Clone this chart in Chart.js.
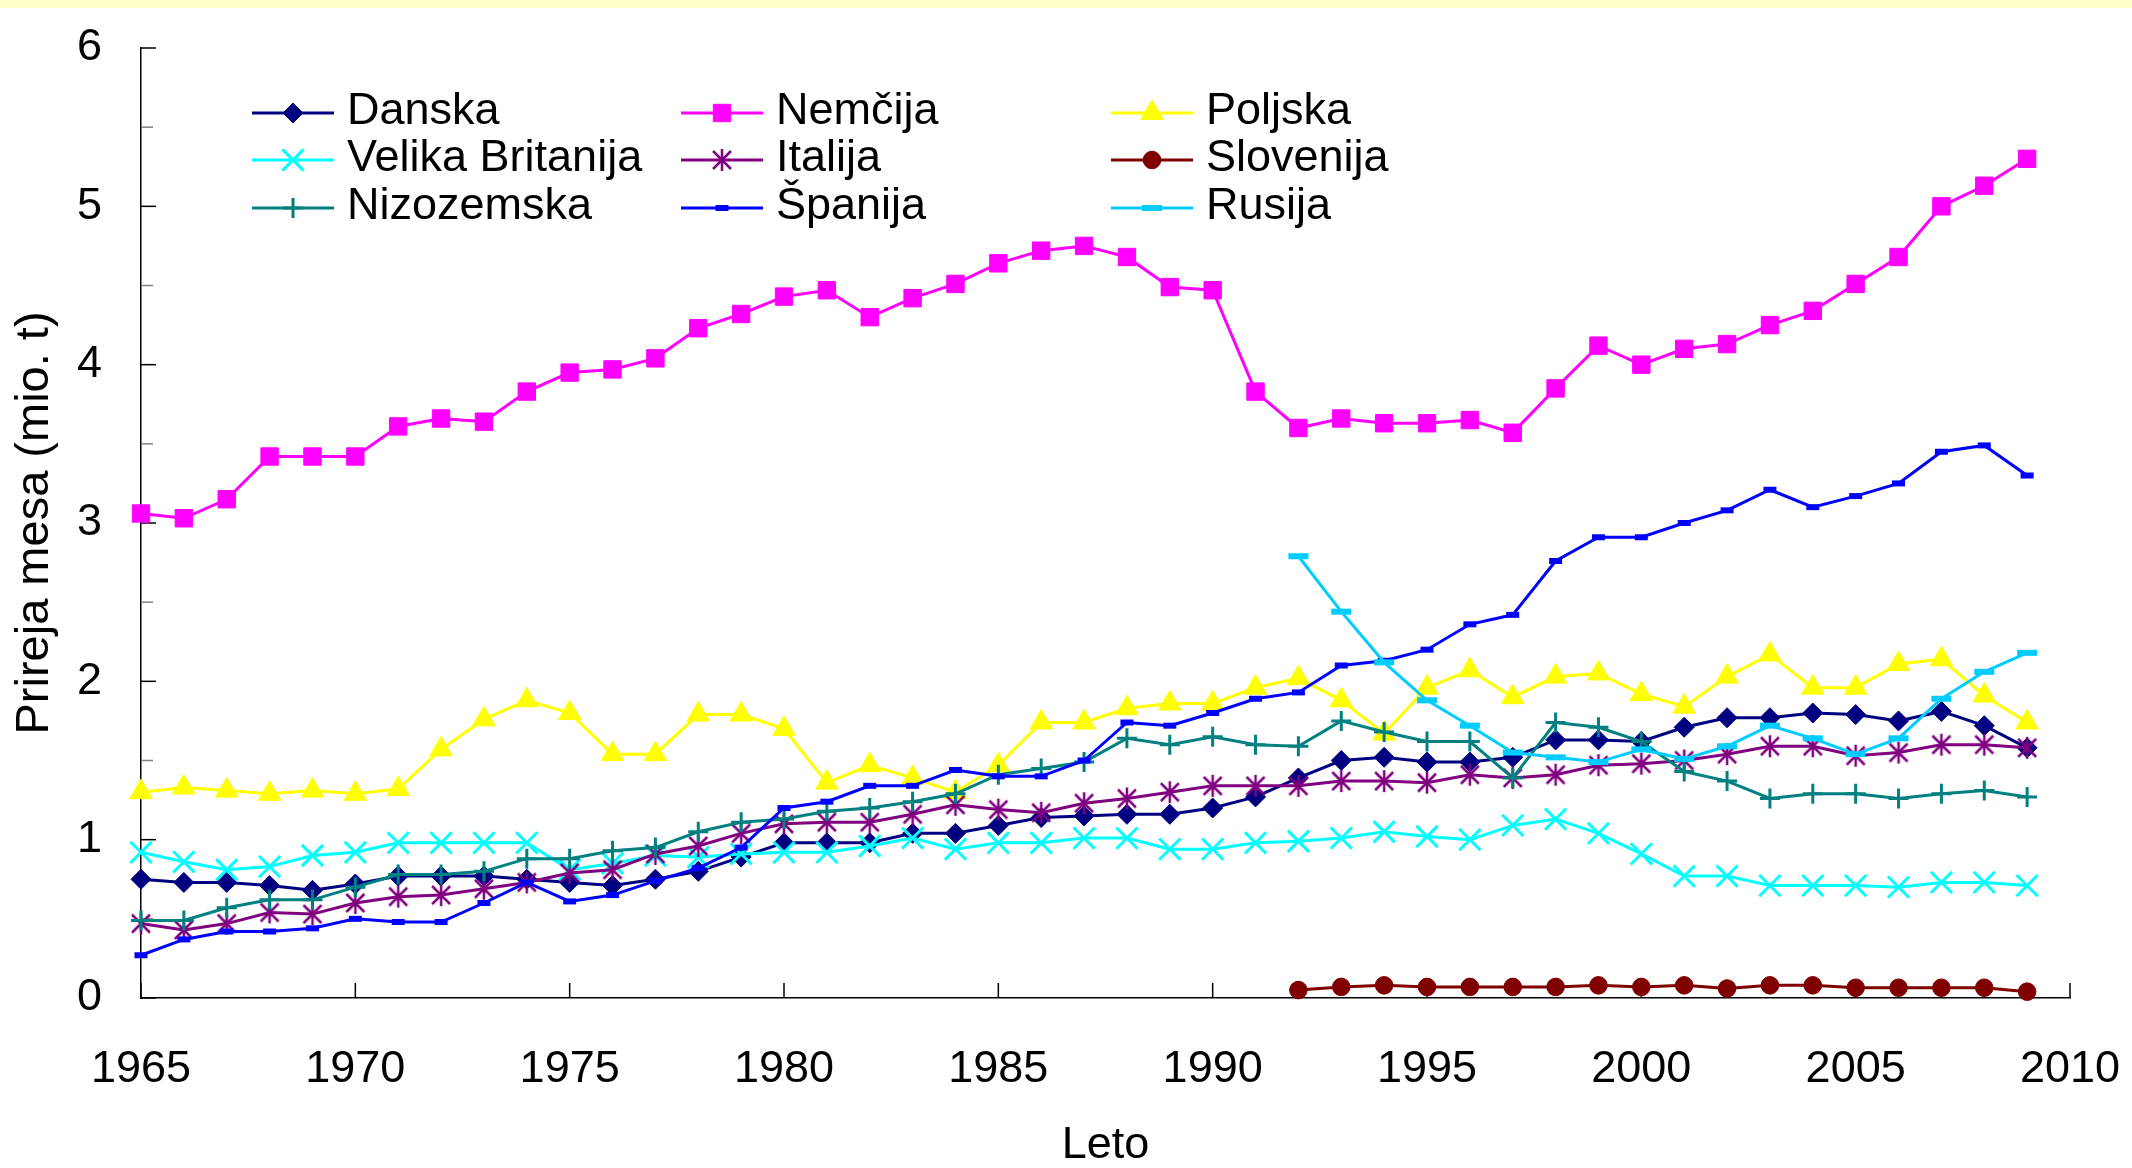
<!DOCTYPE html>
<html>
<head>
<meta charset="utf-8">
<script src="https://cdn.jsdelivr.net/npm/chart.js@4/dist/chart.umd.min.js"></script>
<style>
    html, body { margin: 0; padding: 0; background: #fff; }
    #wrap { width: 2132px; height: 1168px; }
</style>
</head>
<body>
<div id="wrap"><canvas id="myChart" width="2132" height="1168"></canvas></div>
<script>
const years = [1965, 1966, 1967, 1968, 1969, 1970, 1971, 1972, 1973, 1974, 1975, 1976, 1977, 1978, 1979,
    1980, 1981, 1982, 1983, 1984, 1985, 1986, 1987, 1988, 1989, 1990, 1991, 1992, 1993, 1994,
    1995, 1996, 1997, 1998, 1999, 2000, 2001, 2002, 2003, 2004, 2005, 2006, 2007, 2008, 2009];
const xTicks = [1965, 1970, 1975, 1980, 1985, 1990, 1995, 2000, 2005, 2010];

const danska = [0.75, 0.73, 0.73, 0.71, 0.68, 0.72, 0.77, 0.77, 0.77, 0.75, 0.73, 0.71, 0.75, 0.80,
    0.89, 0.98, 0.98, 0.98, 1.04, 1.04, 1.09, 1.14, 1.15, 1.16, 1.16, 1.20, 1.27, 1.39, 1.50, 1.52,
    1.49, 1.49, 1.52, 1.63, 1.63, 1.62, 1.71, 1.77, 1.77, 1.80, 1.79, 1.75, 1.81, 1.72, 1.58];
const nemcija = [3.06, 3.03, 3.15, 3.42, 3.42, 3.42, 3.61, 3.66, 3.64, 3.83, 3.95, 3.97, 4.04, 4.23,
    4.32, 4.43, 4.47, 4.30, 4.42, 4.51, 4.64, 4.72, 4.75, 4.68, 4.49, 4.47, 3.83, 3.60, 3.66, 3.63,
    3.63, 3.65, 3.57, 3.85, 4.12, 4.00, 4.10, 4.13, 4.25, 4.34, 4.51, 4.68, 5.00, 5.13, 5.30];
const poljska = [1.30, 1.33, 1.31, 1.29, 1.31, 1.29, 1.32, 1.57, 1.76, 1.88, 1.80, 1.54, 1.54, 1.79,
    1.79, 1.70, 1.36, 1.47, 1.39, 1.30, 1.47, 1.74, 1.74, 1.83, 1.86, 1.86, 1.96, 2.02, 1.88, 1.67,
    1.96, 2.07, 1.90, 2.03, 2.05, 1.92, 1.84, 2.03, 2.17, 1.96, 1.96, 2.11, 2.14, 1.91, 1.74];
const velikaBritanija = [0.92, 0.86, 0.81, 0.83, 0.90, 0.92, 0.98, 0.98, 0.98, 0.98, 0.81, 0.85, 0.90, 0.89,
    0.91, 0.92, 0.92, 0.96, 1.01, 0.94, 0.98, 0.98, 1.01, 1.01, 0.94, 0.94, 0.98, 0.99, 1.01, 1.05,
    1.02, 1.00, 1.09, 1.13, 1.04, 0.91, 0.77, 0.77, 0.71, 0.71, 0.71, 0.70, 0.73, 0.73, 0.71];
const italija = [0.47, 0.43, 0.47, 0.54, 0.53, 0.60, 0.64, 0.65, 0.69, 0.73, 0.79, 0.81, 0.91, 0.96,
    1.04, 1.10, 1.11, 1.11, 1.16, 1.22, 1.19, 1.17, 1.23, 1.26, 1.30, 1.34, 1.34, 1.34, 1.37, 1.37,
    1.36, 1.41, 1.39, 1.41, 1.47, 1.48, 1.50, 1.54, 1.59, 1.59, 1.53, 1.55, 1.60, 1.60, 1.58];
const slovenija = [null, null, null, null, null, null, null, null, null, null, null, null, null, null,
    null, null, null, null, null, null, null, null, null, null, null, null, null, 0.05, 0.07, 0.08,
    0.07, 0.07, 0.07, 0.07, 0.08, 0.07, 0.08, 0.06, 0.08, 0.08, 0.065, 0.065, 0.065, 0.065, 0.04];
const nizozemska = [0.49, 0.49, 0.57, 0.62, 0.62, 0.70, 0.78, 0.78, 0.80, 0.88, 0.88, 0.93, 0.95, 1.05,
    1.11, 1.13, 1.18, 1.20, 1.24, 1.29, 1.41, 1.45, 1.49, 1.64, 1.60, 1.65, 1.60, 1.59, 1.75, 1.68,
    1.62, 1.62, 1.39, 1.74, 1.71, 1.62, 1.43, 1.37, 1.26, 1.29, 1.29, 1.26, 1.29, 1.31, 1.27];
const spanija = [0.27, 0.37, 0.42, 0.42, 0.44, 0.50, 0.48, 0.48, 0.60, 0.73, 0.61, 0.65, 0.74, 0.82,
    0.95, 1.20, 1.24, 1.34, 1.34, 1.44, 1.40, 1.40, 1.50, 1.74, 1.72, 1.80, 1.89, 1.93, 2.10, 2.13,
    2.20, 2.36, 2.42, 2.76, 2.91, 2.91, 3.00, 3.08, 3.21, 3.10, 3.17, 3.25, 3.45, 3.49, 3.30];
const rusija = [null, null, null, null, null, null, null, null, null, null, null, null, null, null,
    null, null, null, null, null, null, null, null, null, null, null, null, null, 2.79, 2.44, 2.12,
    1.88, 1.72, 1.55, 1.52, 1.49, 1.57, 1.51, 1.59, 1.72, 1.64, 1.54, 1.64, 1.89, 2.06, 2.18];

const FONT = "'Liberation Sans', Arial, sans-serif";

// excel-like star marker: X with a vertical bar
function starMark(color) {
    const c = document.createElement("canvas");
    c.width = 24;
    c.height = 24;
    const g = c.getContext("2d");
    g.strokeStyle = color;
    g.lineWidth = 2.5;
    g.beginPath();
    g.moveTo(3, 3); g.lineTo(21, 21);
    g.moveTo(21, 3); g.lineTo(3, 21);
    g.moveTo(12, 1); g.lineTo(12, 23);
    g.stroke();
    return c;
}

function series(label, values, color, style, radius, pbw) {
    return {
        label: label,
        data: years.map((y, i) => ({ x: y, y: values[i] })),
        borderColor: color,
        backgroundColor: color,
        pointBackgroundColor: color,
        pointBorderColor: color,
        borderWidth: 3,
        pointStyle: style,
        pointRadius: radius,
        pointHoverRadius: radius,
        pointBorderWidth: pbw,
        tension: 0,
        spanGaps: false,
        clip: false,
    };
}

const datasets = [
    series("Danska", danska, "#000080", "rectRot", 10, 1),
    series("Nemčija", nemcija, "#FF00FF", "rect", 12.3, 1),
    series("Poljska", poljska, "#FFFF00", "triangle", 13, 1),
    series("Velika Britanija", velikaBritanija, "#00FFFF", "crossRot", 15, 3),
    series("Italija", italija, "#800080", starMark("#800080"), 12, 1),
    series("Slovenija", slovenija, "#800000", "circle", 8.8, 1),
    series("Nizozemska", nizozemska, "#008080", "cross", 10, 3),
    series("Španija", spanija, "#0000FF", "line", 6.5, 6),
    series("Rusija", rusija, "#00CCFF", "line", 10, 6),
];
// first series at the bottom, like the spreadsheet
datasets.forEach((d, i) => { d.order = datasets.length - i; });

const topStrip = {
    id: "topStrip",
    beforeDraw(chart) {
        const ctx = chart.ctx;
        ctx.save();
        ctx.fillStyle = "#FFFFCC";
        ctx.fillRect(0, 0, chart.width, 8);
        ctx.restore();
    },
};

const innerTicks = {
    id: "innerTicks",
    beforeDatasetsDraw(chart) {
        const { ctx, scales } = chart;
        const xs = scales.x, ys = scales.y;
        ctx.save();
        ctx.lineWidth = 1.5;
        ys.ticks.forEach((t) => {
            const py = ys.getPixelForValue(t.value);
            const major = Number.isInteger(t.value);
            ctx.strokeStyle = major ? "#000" : "#808080";
            ctx.beginPath();
            ctx.moveTo(xs.left, py);
            ctx.lineTo(xs.left + (major ? 15 : 12), py);
            ctx.stroke();
        });
        ctx.strokeStyle = "#000";
        xs.ticks.forEach((t) => {
            const px = xs.getPixelForValue(t.value);
            ctx.beginPath();
            ctx.moveTo(px, ys.bottom);
            ctx.lineTo(px, ys.bottom - 15);
            ctx.stroke();
        });
        ctx.restore();
    },
};

const legendCols = [252, 681, 1111];
const legendRows = [113, 160, 208];

const gridLegend = {
    id: "gridLegend",
    afterDraw(chart) {
        const ctx = chart.ctx;
        ctx.save();
        chart.data.datasets.forEach((d, i) => {
            const x0 = legendCols[i % 3];
            const y = legendRows[Math.floor(i / 3)];
            ctx.strokeStyle = d.borderColor;
            ctx.lineWidth = d.borderWidth;
            ctx.beginPath();
            ctx.moveTo(x0, y);
            ctx.lineTo(x0 + 82, y);
            ctx.stroke();
            ctx.fillStyle = d.pointBackgroundColor;
            ctx.strokeStyle = d.pointBorderColor;
            ctx.lineWidth = d.pointBorderWidth;
            Chart.helpers.drawPoint(ctx, {
                pointStyle: d.pointStyle,
                radius: d.pointRadius,
                rotation: 0,
                borderWidth: d.pointBorderWidth,
            }, x0 + 41, y);
            ctx.fillStyle = "#000";
            ctx.font = "45px " + FONT;
            ctx.textBaseline = "middle";
            ctx.textAlign = "left";
            ctx.fillText(d.label, x0 + 95, y - 1);
        });
        ctx.restore();
    },
};

// keep the plot box fixed: no extra room for overflowing tick labels
function noPad(s) {
    s.paddingLeft = 0;
    s.paddingRight = 0;
    s.paddingTop = 0;
    s.paddingBottom = 0;
}

Chart.defaults.font.family = FONT;
Chart.defaults.font.size = 45;
Chart.defaults.color = "#000";

const config = {
    type: "line",
    data: { datasets: datasets },
    options: {
        responsive: false,
        animation: false,
        devicePixelRatio: 1,
        layout: { padding: { top: 48, right: 62, left: 0, bottom: 0 } },
        plugins: {
            legend: { display: false },
            tooltip: { enabled: false },
        },
        scales: {
            x: {
                type: "linear",
                min: 1965,
                max: 2010,
                afterBuildTicks: (s) => { s.ticks = xTicks.map((v) => ({ value: v })); },
                afterFit: (s) => { s.height = 170; noPad(s); },
                grid: { display: false, drawTicks: false },
                border: { display: true, color: "#000", width: 1.5 },
                ticks: {
                    autoSkip: false,
                    maxRotation: 0,
                    padding: 45,
                    callback: (v) => String(v),
                },
                title: {
                    display: true,
                    text: "Leto",
                    font: { size: 45, lineHeight: 1 },
                    padding: { top: 0, bottom: 0 },
                },
            },
            y: {
                min: 0,
                max: 6,
                afterFit: (s) => { s.width = 141; noPad(s); },
                grid: { display: false, drawTicks: false },
                border: { display: true, color: "#000", width: 1.5 },
                ticks: {
                    stepSize: 0.5,
                    padding: 39,
                    callback: (v) => (Number.isInteger(v) ? String(v) : ""),
                },
                title: {
                    display: true,
                    text: "Prireja mesa (mio. t)",
                    font: { size: 47 },
                    padding: { top: 7, bottom: 0 },
                },
            },
        },
    },
    plugins: [topStrip, innerTicks, gridLegend],
};

new Chart(document.getElementById("myChart"), config);
</script>
</body>
</html>
